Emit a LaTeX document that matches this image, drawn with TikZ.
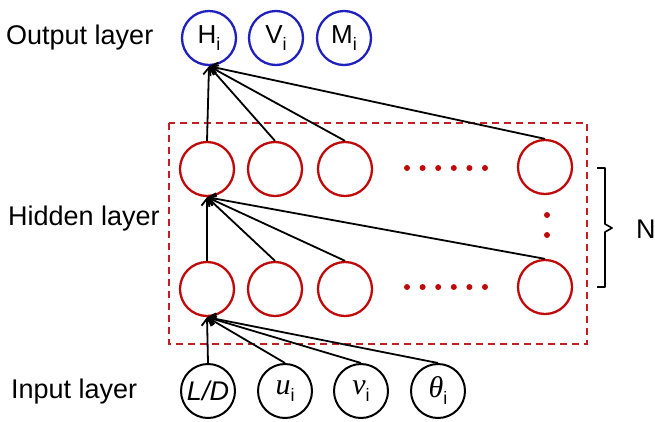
\documentclass[tikz,border=0pt]{standalone}
\usepackage{fontspec}
\setmainfont{Liberation Sans}
\newfontfamily\serifit{Liberation Serif}[ItalicFont=* Italic]
\usetikzlibrary{arrows.meta}
\definecolor{outblue}{RGB}{32,32,190}
\definecolor{hidred}{RGB}{192,10,10}
\definecolor{boxred}{RGB}{196,30,36}
\newcommand\sbi{\raisebox{-7pt}{\normalfont\fontsize{18}{18}\selectfont i}}
\tikzset{
  outnode/.style={circle,draw=outblue,line width=2.3pt,minimum size=54pt,inner sep=0pt,font=\fontsize{26}{26}\selectfont},
  hidnode/.style={circle,draw=hidred,line width=2.3pt,minimum size=54pt,inner sep=0pt},
  innode/.style={circle,draw=black,line width=2pt,minimum size=54pt,inner sep=0pt,font=\fontsize{27}{27}\selectfont},
  conn/.style={line width=1.8pt,-{Straight Barb[length=7pt,width=11pt,line width=1.8pt]}},
  lbl/.style={anchor=west,inner sep=0pt,font=\fontsize{27}{27}\selectfont},
  rdot/.style={circle,fill=hidred,inner sep=0pt,minimum size=6pt},
}
\begin{document}
\begin{tikzpicture}[x=1pt,y=-1pt]
\useasboundingbox (0,0) rectangle (655,421);
% labels
\node[lbl] (lo) at (6,38) {Output layer};
\node[lbl] (lh) at (8,219) {Hidden layer};
\node[lbl] (li) at (11,392) {Input layer};
% dashed box
\draw[boxred,line width=1.5pt,dash pattern=on 7pt off 5pt] (169,123) rectangle (587,344);
% output nodes
\node[outnode] (H) at (209,38) {H\sbi};
\node[outnode] (V) at (276,38) {V\sbi};
\node[outnode] (M) at (344,38) {M\sbi};
% hidden row 1
\node[hidnode] (a1) at (207,169) {};
\node[hidnode] (a2) at (275,169) {};
\node[hidnode] (a3) at (345,169) {};
\node[hidnode] (a4) at (545,167) {};
% hidden row 2
\node[hidnode] (b1) at (207,289) {};
\node[hidnode] (b2) at (275,289) {};
\node[hidnode] (b3) at (345,289) {};
\node[hidnode] (b4) at (545,287) {};
% dots
\foreach \i in {0,...,5}{
  \node[rdot] (da\i) at (407+15.6*\i,168) {};
  \node[rdot] (db\i) at (407+15.6*\i,287) {};
}
\node[rdot] (dv1) at (547,215) {};
\node[rdot] (dv2) at (547,235) {};
% input nodes
\node[innode] (x1) at (208,391) {\textit{L/D}};
\node[innode] (x2) at (285,391) {{\fontsize{30}{30}\serifit\itshape u}\sbi};
\node[innode] (x3) at (361,391) {{\fontsize{30}{30}\serifit\itshape v}\sbi};
\node[innode] (x4) at (438,391) {{\fontsize{30}{30}\serifit\itshape θ}\sbi};
% connectors
\foreach \n in {x1,x2,x3,x4} \draw[conn] (\n.north) -- (b1.south);
\foreach \n in {b1,b2,b3,b4} \draw[conn] (\n.north) -- (a1.south);
\foreach \n in {a1,a2,a3,a4} \draw[conn] (\n.north) -- (H.south);
% bracket and N
\draw[line width=1.6pt,line join=round] (597,168) -- (605,168) -- (605,224) -- (612,228) -- (605,232) -- (605,287) -- (597,287);
\node[anchor=west,inner sep=0pt,font=\fontsize{27}{27}\selectfont] (N) at (636,229) {N};
\end{tikzpicture}
\end{document}
